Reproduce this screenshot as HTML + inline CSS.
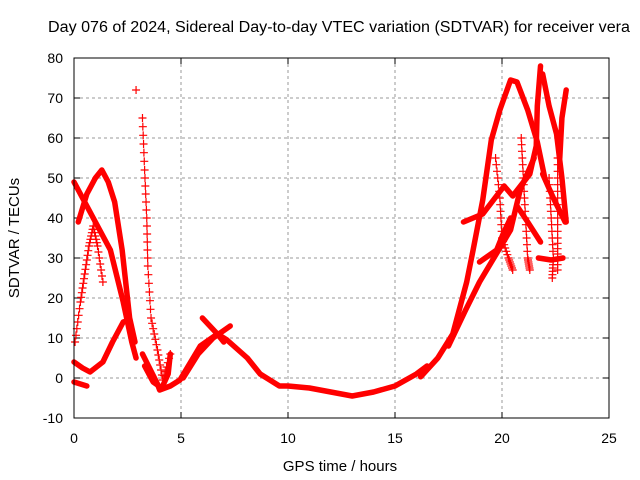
<!DOCTYPE html>
<html><head><meta charset="utf-8"><style>
body{margin:0;background:#fff;}
svg{display:block;font-family:"Liberation Sans",sans-serif;}
</style></head><body>
<svg id="chart" width="640" height="480">
<rect width="640" height="480" fill="#fff"/>
<text x="339" y="32" font-size="15.5" text-anchor="middle" textLength="582" lengthAdjust="spacingAndGlyphs">Day 076 of 2024, Sidereal Day-to-day VTEC variation (SDTVAR) for receiver vera</text>
<g id="grid"></g><g id="axes"></g><g id="series"></g>
<rect x="74" y="58" width="535" height="360" fill="none" stroke="#000" stroke-width="1"/>
<text x="340" y="471" font-size="15" text-anchor="middle">GPS time / hours</text>
<text transform="translate(19,238) rotate(-90)" font-size="15" text-anchor="middle">SDTVAR / TECUs</text>
</svg>
<script>
const xTicks=[0,5,10,15,20,25];
const yTicks=[-10,0,10,20,30,40,50,60,70,80];
// thick band tracks: [hour, TECU]
const bandA=[[0,49],[0.5,44],[1.0,39],[1.7,32],[2.3,19],[2.7,9],[2.9,5]];
const bandB=[[0.2,39],[0.6,46],[1.0,50],[1.3,52],[1.6,49],[1.9,44],[2.25,32],[2.6,15],[2.85,9]];
const bandC=[[0,4],[0.4,2.5],[0.75,1.5],[1.35,4],[1.8,9],[2.3,14],[2.6,14.5]];
const bandC2=[[0,-1],[0.3,-1.5],[0.6,-2]];
const bandD=[[3.2,6],[3.9,-1.5],[4.0,-3],[4.5,-2],[4.95,-0.5],[5.9,8],[6.7,11],[7.15,9.5],[8.1,5],[8.7,1],[9.6,-2],[10,-2],[11,-2.5],[12,-3.5],[13,-4.5],[14,-3.5],[15,-2],[16,1],[16.5,3]];
const bandE=[[5.1,0],[5.8,6],[6.5,10],[7.3,13]];
const bandF=[[6.0,15],[6.7,11],[7.0,9]];
const bandG=[[3.3,3],[3.7,-1],[4.1,-2.5],[4.4,1],[4.5,6]];
const bandH=[[16.2,0.3],[17.0,5],[17.7,11],[18.35,24],[18.65,32],[19.1,44.5],[19.5,59.5],[19.9,67],[20.4,74.5],[20.7,74],[21.2,67],[21.65,59],[22.0,50]];
const bandI=[[18.2,39],[19.1,41],[20.1,48],[20.5,45.5],[21.3,51],[21.6,58],[21.65,68],[21.8,78]];
const bandJ=[[21.9,76],[22.2,68],[22.55,61],[22.8,50],[23.0,39]];
const bandK=[[23.0,72],[22.8,65],[22.7,55]];
const bandL=[[17.5,8],[18.3,17],[18.95,24],[20.4,37],[20.85,47],[21.5,55]];
const bandM=[[18.95,29],[19.75,32],[20.05,36],[20.4,40]];
const bandN=[[20.7,43],[21.2,39],[21.8,34]];
const bandO=[[21.7,30],[22.3,29.5],[22.85,30]];
const bandP=[[21.9,51],[22.4,45],[22.95,39]];
// sparse plus-marker tracks
const plusA=[[0.05,9],[0.3,19],[0.5,26],[0.7,33],[0.9,38],[1.1,33],[1.35,24]];
const plusB=[[3.2,65],[3.3,52],[3.4,40],[3.45,28],[3.6,15],[3.9,7],[4.15,-0.5],[4.5,6]];
const plusC=[[2.9,72]];
const plusD=[[19.7,55],[19.9,45],[20.0,35],[20.3,30],[20.5,27]];
const plusE=[[20.9,60],[21.0,50],[21.1,40],[21.2,30],[21.3,27]];
const plusF=[[22.2,50],[22.3,40],[22.4,30],[22.35,25]];
const plusG=[[22.6,55],[22.6,45],[22.6,35],[22.6,27]];
const X=h=>74+h*21.4, Y=v=>378-v*4;
const NS='http://www.w3.org/2000/svg';
function mk(t,p,a){const e=document.createElementNS(NS,t);for(const k in a)e.setAttribute(k,a[k]);p.appendChild(e);return e;}
const grid=document.getElementById('grid'),axes=document.getElementById('axes'),ser=document.getElementById('series');
xTicks.forEach(t=>{const x=X(t);
 if(t>0&&t<25){const g=mk('line',grid,{x1:x,x2:x,y1:58,y2:418,stroke:'#999','stroke-dasharray':'3,3'});
 
 }
 mk('line',axes,{x1:x,x2:x,y1:418,y2:412,stroke:'#000'});mk('line',axes,{x1:x,x2:x,y1:58,y2:64,stroke:'#000'});
 const l=mk('text',axes,{x:x,y:443,'font-size':14,'text-anchor':'middle'});l.textContent=t;
 
 });
yTicks.forEach(t=>{const y=Y(t);
 if(t>-10&&t<80){const g=mk('line',grid,{x1:74,x2:609,y1:y,y2:y,stroke:'#999','stroke-dasharray':'3,3'});
 
 }
 mk('line',axes,{x1:74,x2:80,y1:y,y2:y,stroke:'#000'});mk('line',axes,{x1:609,x2:603,y1:y,y2:y,stroke:'#000'});
 const l=mk('text',axes,{x:63,y:y+5,'font-size':14,'text-anchor':'end'});l.textContent=t;
 
 });
[bandA,bandB,bandC,bandC2,bandD,bandE,bandF,bandG,bandH,bandI,bandJ,bandK,bandL,bandM,bandN,bandO,bandP].forEach(b=>{
 const p=mk('polyline',ser,{points:b.map(d=>X(d[0])+','+Y(d[1])).join(' '),fill:'none',stroke:'#f00','stroke-width':5.5,'stroke-linejoin':'round','stroke-linecap':'round'});
 
 });
[plusA,plusB,plusC,plusD,plusE,plusF,plusG].forEach(b=>{
 for(let i=0;i<b.length;i++){
  const n=i<b.length-1?6:1;
  for(let k=0;k<n;k++){const f=k/n;const a=b[i],c=b[Math.min(i+1,b.length-1)];
   const x=X(a[0]+(c[0]-a[0])*f),y=Y(a[1]+(c[1]-a[1])*f);
   const m=mk('path',ser,{d:`M${x-4},${y}h8M${x},${y-4}v8`,stroke:'#f00','stroke-width':1.2});
   
   }
 }});
</script>
</body></html>
